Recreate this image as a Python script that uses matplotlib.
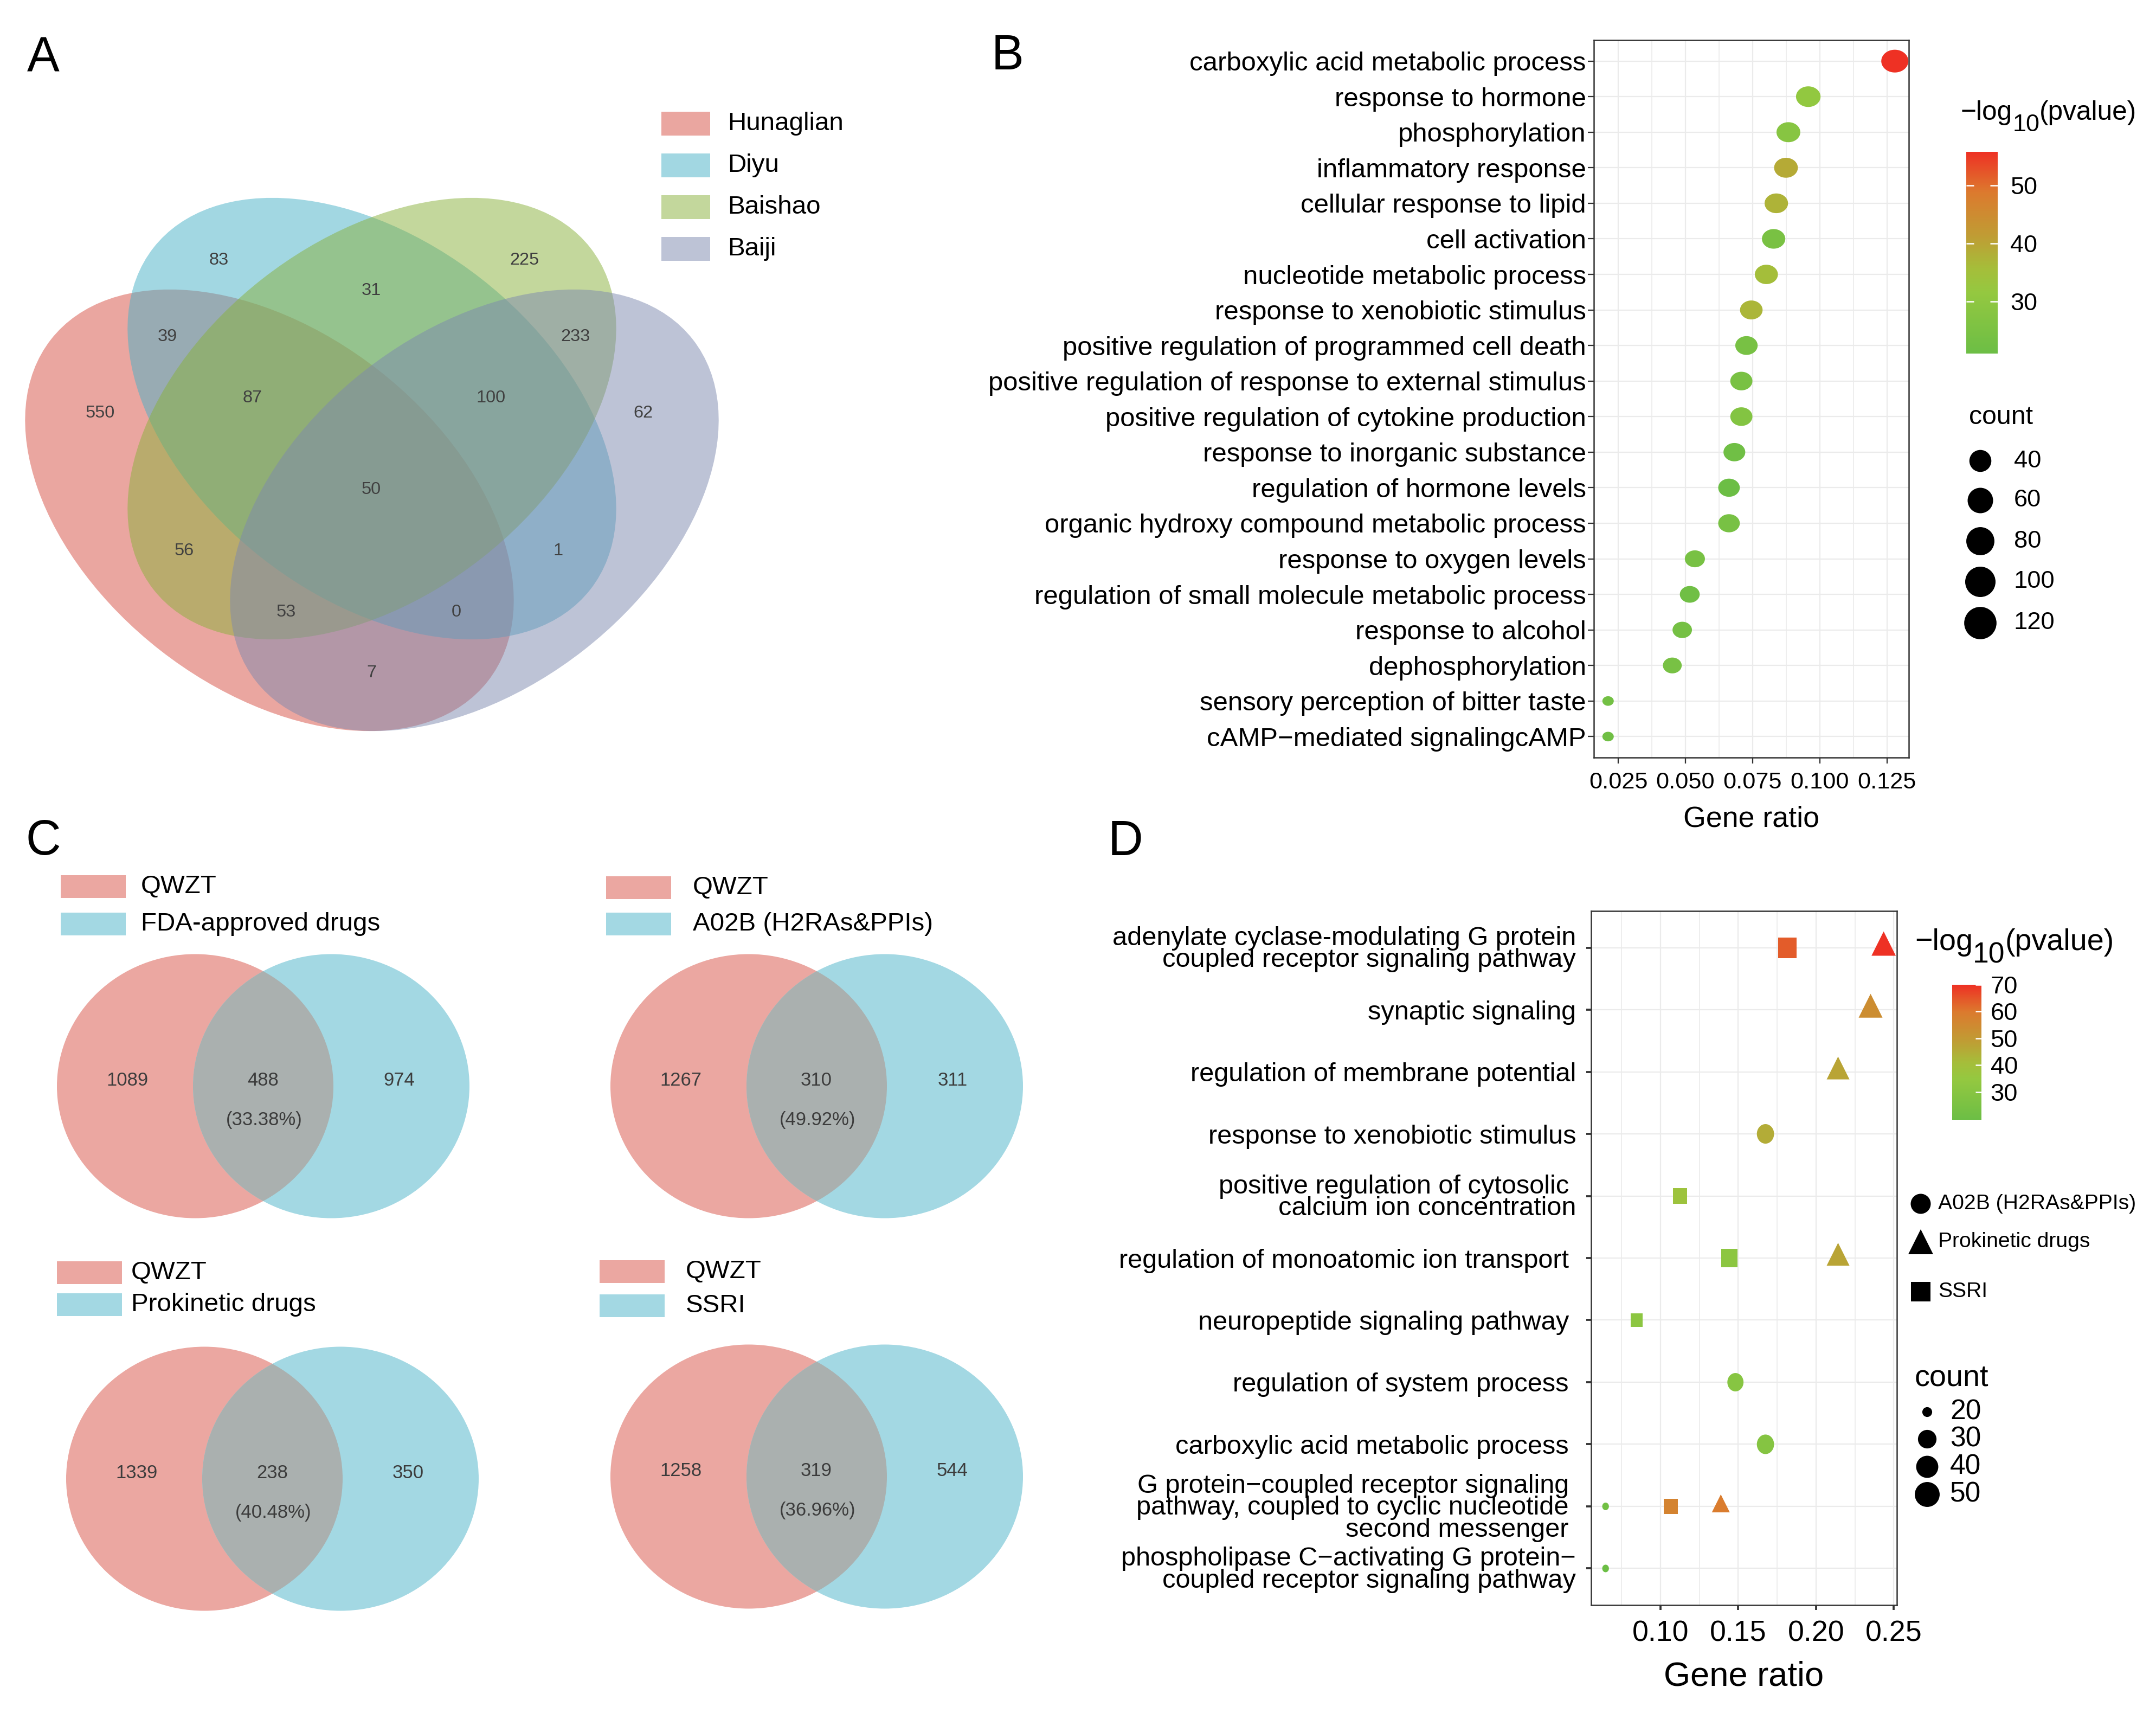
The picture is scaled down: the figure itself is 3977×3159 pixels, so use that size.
import numpy as np
import matplotlib
matplotlib.use('Agg')
import matplotlib.pyplot as plt
from matplotlib.patches import Ellipse, Rectangle
from matplotlib.path import Path
from matplotlib.colors import LinearSegmentedColormap, Normalize
from matplotlib.cm import ScalarMappable

plt.rcParams['font.family'] = ['Liberation Sans', 'DejaVu Sans']

W, H = 3977, 3159
DPI = 300

# ---------------- data ----------------
# A: four-set venn (region counts)
a_sets = ['Hunaglian', 'Diyu', 'Baishao', 'Baiji']
a_colors = ['#D74F43', '#47B1C7', '#89B13B', '#7D89AF']
a_region_counts = [550, 83, 225, 62, 39, 31, 233, 87, 100, 50, 56, 1, 53, 0, 7]

# C: QWZT vs drug target sets
c_drugs = ['FDA-approved drugs', 'A02B (H2RAs&PPIs)', 'Prokinetic drugs', 'SSRI']
c_qwzt_only = [1089, 1267, 1339, 1258]
c_shared = [488, 310, 238, 319]
c_drug_only = [974, 311, 350, 544]

# B: GO enrichment
b_terms = ['carboxylic acid metabolic process', 'response to hormone', 'phosphorylation',
           'inflammatory response', 'cellular response to lipid', 'cell activation',
           'nucleotide metabolic process', 'response to xenobiotic stimulus',
           'positive regulation of programmed cell death',
           'positive regulation of response to external stimulus',
           'positive regulation of cytokine production', 'response to inorganic substance',
           'regulation of hormone levels', 'organic hydroxy compound metabolic process',
           'response to oxygen levels', 'regulation of small molecule metabolic process',
           'response to alcohol', 'dephosphorylation', 'sensory perception of bitter taste',
           'cAMP\u2212mediated signalingcAMP']
b_ratio = [0.1279, 0.0957, 0.0883, 0.0874, 0.0838, 0.0828, 0.0801, 0.0745, 0.0727, 0.0708,
           0.0708, 0.0682, 0.0662, 0.0662, 0.0535, 0.0516, 0.0488, 0.0451, 0.0212, 0.0212]
b_count = [128, 96, 88, 87, 84, 83, 80, 75, 73, 71, 71, 68, 66, 66, 54, 52, 49, 45, 21, 21]
b_logp = [55.8, 31, 28, 39, 37.5, 24.5, 35.5, 37, 24, 24.5, 27, 22, 21, 24, 24, 22, 23.5,
          24, 23, 22]

# D: GO enrichment of three drug overlaps
d_terms = ['adenylate cyclase-modulating G protein\ncoupled receptor signaling pathway',
           'synaptic signaling', 'regulation of membrane potential',
           'response to xenobiotic stimulus',
           'positive regulation of cytosolic \ncalcium ion concentration',
           'regulation of monoatomic ion transport ', 'neuropeptide signaling pathway ',
           'regulation of system process ', 'carboxylic acid metabolic process ',
           'G protein\u2212coupled receptor signaling \npathway, coupled to cyclic nucleotide \nsecond messenger ',
           'phospholipase C\u2212activating G protein\u2212\ncoupled receptor signaling pathway']
d_groups = ['A02B (H2RAs&PPIs)', 'Prokinetic drugs', 'SSRI']
d_point_term = [0, 0, 1, 2, 3, 4, 5, 5, 6, 7, 8, 9, 9, 9, 10]
d_point_group = ['SSRI', 'Prokinetic drugs', 'Prokinetic drugs', 'Prokinetic drugs',
                 'A02B (H2RAs&PPIs)', 'SSRI', 'SSRI', 'Prokinetic drugs', 'SSRI',
                 'A02B (H2RAs&PPIs)', 'A02B (H2RAs&PPIs)', 'A02B (H2RAs&PPIs)', 'SSRI',
                 'Prokinetic drugs', 'A02B (H2RAs&PPIs)']
d_point_ratio = [0.1817, 0.2435, 0.2351, 0.2142, 0.1675, 0.1126, 0.1443, 0.2142, 0.0846,
                 0.1482, 0.1675, 0.0647, 0.1066, 0.1388, 0.0647]
d_point_count = [58, 58, 56, 51, 52, 36, 46, 51, 27, 46, 52, 20, 34, 33, 20]
d_point_logp = [64, 70, 54, 47, 45, 38, 32, 47, 32, 30, 29, 22, 57, 59, 19.6]

b_size_breaks = [40, 60, 80, 100, 120]
d_size_breaks = [20, 30, 40, 50]

# ---------------- helpers ----------------
fig = plt.figure(figsize=(W / DPI, H / DPI), dpi=DPI)
bg = fig.add_axes([0, 0, 1, 1], zorder=0)
bg.set_xlim(0, W)
bg.set_ylim(H, 0)
bg.axis('off')


def pt(v):
    # pixels -> points
    return v * 72.0 / DPI


def px_axes(l, t, r, b):
    return fig.add_axes([l / W, 1 - b / H, (r - l) / W, (b - t) / H], zorder=2)


def ellipse_path(w, h):
    t = np.linspace(0, 2 * np.pi, 80)
    return Path(np.column_stack([w / 2 * np.cos(t), h / 2 * np.sin(t)]), closed=True)


def log10_title(x, base, fs, sub_fs, drop):
    # "-log10(pvalue)" with a big, low subscript like the ggplot legend title
    r = fig.canvas.get_renderer()
    t1 = bg.text(x, base, '\u2212log', fontsize=fs, ha='left', va='baseline')
    x2 = x + t1.get_window_extent(r).width
    t2 = bg.text(x2, base + drop, '10', fontsize=sub_fs, ha='left', va='baseline')
    x3 = x2 + t2.get_window_extent(r).width
    bg.text(x3, base, '(pvalue)', fontsize=fs, ha='left', va='baseline')


enrich_cmap = LinearSegmentedColormap.from_list(
    'enrich', [(0.0, '#6CBE45'), (0.3, '#94C840'), (0.42, '#A5BE3A'),
               (0.58, '#BF9D34'), (0.8, '#DC7A2E'), (1.0, '#EE3124')])

dark = '#333333'
grid_col = '#EBEBEB'

# ---------------- panel A ----------------
a_centers = [(497, 941), (686, 772), (686, 772), (875, 941)]
a_angles = [38, 38, -38, -38]
for (cx, cy), ang, col in zip(a_centers, a_angles, a_colors):
    bg.add_patch(Ellipse((cx, cy), 1023, 655, angle=ang, facecolor=col, alpha=0.5,
                         edgecolor='none'))

a_label_pos = [(185, 762), (404, 480), (967, 480), (1186, 762), (309, 621), (685, 536),
               (1061, 621), (466, 734), (906, 734), (685, 903), (340, 1016), (1030, 1016),
               (528, 1129), (842, 1129), (685, 1241)]
for n, (x, y) in zip(a_region_counts, a_label_pos):
    bg.text(x, y, str(n), ha='center', va='center', fontsize=7.8, color='#404040')

for i, (name, col) in enumerate(zip(a_sets, a_colors)):
    yc = 228 + i * 77
    bg.add_patch(Rectangle((1220, yc - 22), 90, 44, facecolor=col, alpha=0.5,
                           edgecolor='none'))
    bg.text(1342, yc, name, ha='left', va='center', fontsize=11.4)

bg.text(50, 132, 'A', fontsize=21.5, va='baseline', ha='left')

# ---------------- panel C ----------------
c_red_cx = [360, 1381, 377, 1381]
c_cy = [2003, 2003, 2727, 2723]
c_leg_x = [112, 1118, 105, 1106]
c_leg_tx = [260, 1278, 242, 1265]
c_leg_y = [(1635, 1704), (1637, 1704), (2347, 2406), (2345, 2408)]
for k in range(4):
    rx, cy = c_red_cx[k], c_cy[k]
    bx = rx + 251
    red = Ellipse((rx, cy), 510, 487, facecolor='#EBA7A1', edgecolor='none')
    blue = Ellipse((bx, cy), 510, 487, facecolor='#A3D8E3', edgecolor='none')
    bg.add_patch(red)
    bg.add_patch(blue)
    lens = Ellipse((rx, cy), 510, 487, facecolor='#AAB0AF', edgecolor='none')
    bg.add_patch(lens)
    lens.set_clip_path(blue)
    pct = 100.0 * c_shared[k] / (c_shared[k] + c_drug_only[k])
    bg.text(rx - 125, cy - 11, str(c_qwzt_only[k]), ha='center', va='center',
            fontsize=8.3, color='#3C3C3C')
    bg.text(rx + 125, cy - 11, str(c_shared[k]), ha='center', va='center',
            fontsize=8.3, color='#3C3C3C')
    bg.text(rx + 376, cy - 11, str(c_drug_only[k]), ha='center', va='center',
            fontsize=8.3, color='#3C3C3C')
    bg.text(rx + 127, cy + 62, '(%.2f%%)' % pct, ha='center', va='center',
            fontsize=8.3, color='#3C3C3C')
    for (lab, col), yc in zip([('QWZT', '#EBA7A1'), (c_drugs[k], '#A3D8E3')], c_leg_y[k]):
        bg.add_patch(Rectangle((c_leg_x[k], yc - 21), 120, 42, facecolor=col,
                               edgecolor='none'))
        bg.text(c_leg_tx[k], yc, lab, ha='left', va='center', fontsize=11.4)

bg.text(47, 1576, 'C', fontsize=21.5, va='baseline', ha='left')

# ---------------- panel B ----------------
axB = px_axes(2940, 74, 3521, 1397)
nb = len(b_terms)
yb = np.arange(nb)[::-1]
normB = Normalize(vmin=min(b_logp), vmax=max(b_logp))
cb_min, cb_max = min(b_count), max(b_count)


def b_diam(c):
    return 21 + 29 * np.sqrt((np.asarray(c, float) - cb_min) / (cb_max - cb_min))


axB.scatter(b_ratio, yb, s=pt(b_diam(b_count)) ** 2, c=enrich_cmap(normB(b_logp)),
            marker=ellipse_path(1.19, 1.0), edgecolors='none', zorder=3)
axB.set_xlim(0.0159, 0.1331)
axB.set_ylim(-0.59, nb - 1 + 0.59)
b_xticks = [0.025, 0.05, 0.075, 0.1, 0.125]
axB.set_xticks(b_xticks)
axB.set_xticklabels(['%.3f' % v for v in b_xticks])
axB.set_xticks([0.0375, 0.0625, 0.0875, 0.1125], minor=True)
axB.set_yticks(yb)
axB.set_yticklabels(b_terms)
axB.grid(which='major', color=grid_col, lw=0.55)
axB.grid(which='minor', color=grid_col, lw=0.4)
axB.set_axisbelow(True)
axB.tick_params(which='major', length=pt(11), width=0.55, color=dark, labelcolor='black')
axB.tick_params(which='minor', length=0)
axB.tick_params(axis='y', labelsize=11.8, pad=0.8)
axB.tick_params(axis='x', labelsize=10.4, pad=3.5)
for s in axB.spines.values():
    s.set_color(dark)
    s.set_linewidth(0.6)
axB.set_xlabel('Gene ratio', fontsize=12.9, va='center')
axB.xaxis.set_label_coords(0.5, -(1511 - 1397) / (1397 - 74))

# B legends
log10_title(3617, 221, 11.9, 10.8, 21)
caxB = px_axes(3627, 280, 3685, 652)
cbB = fig.colorbar(ScalarMappable(norm=normB, cmap=enrich_cmap), cax=caxB)
cbB.outline.set_visible(False)
cbB.set_ticks([30, 40, 50])
caxB.yaxis.set_ticks_position('both')
caxB.tick_params(axis='y', direction='in', length=pt(14), width=0.6, color='white',
                 left=True, right=True, labelleft=False, labelright=True,
                 labelsize=10.8, pad=5.5, labelcolor='black')
bg.text(3632, 769, 'count', ha='left', va='center', fontsize=11.6)
for v, yc in zip(b_size_breaks, [850, 923, 998, 1073, 1149]):
    bg.scatter([3653], [yc], s=pt(b_diam(v) * 1.22) ** 2, c='black', marker='o',
               edgecolors='none')
    bg.text(3715, yc, str(v), ha='left', va='center', fontsize=10.9)

bg.text(1829, 128, 'B', fontsize=21.5, va='baseline', ha='left')

# ---------------- panel D ----------------
axD = px_axes(2935, 1680, 3499, 2960)
nd = len(d_terms)
normD = Normalize(vmin=min(d_point_logp), vmax=max(d_point_logp))
cd_min, cd_max = min(d_point_count), max(d_point_count)


def d_height(c):
    return 14 + 24 * np.sqrt((np.asarray(c, float) - cd_min) / (cd_max - cd_min))


tri = Path([(0, 2 / 3.), (-0.5, -1 / 3.), (0.5, -1 / 3.), (0, 2 / 3.)], closed=True)
sq = Path([(-0.45, -0.5), (0.45, -0.5), (0.45, 0.5), (-0.45, 0.5), (-0.45, -0.5)],
          closed=True)
d_marker = {'A02B (H2RAs&PPIs)': (ellipse_path(0.88, 1.0), 1.0),
            'Prokinetic drugs': (tri, 1.18 * 4 / 3.),
            'SSRI': (sq, 1.0)}
term_y = np.array([nd - 1 - t for t in d_point_term])
ratio = np.array(d_point_ratio)
cnt = np.array(d_point_count)
lp = np.array(d_point_logp)
grp = np.array(d_point_group)
for g in d_groups:
    m = grp == g
    mk, fac = d_marker[g]
    axD.scatter(ratio[m], term_y[m], s=pt(d_height(cnt[m]) * fac) ** 2,
                c=enrich_cmap(normD(lp[m])), marker=mk, edgecolors='none', zorder=3)
axD.set_xlim(0.0554, 0.252)
axD.set_ylim(-0.59, nd - 1 + 0.59)
d_xticks = [0.10, 0.15, 0.20, 0.25]
axD.set_xticks(d_xticks)
axD.set_xticklabels(['%.2f' % v for v in d_xticks])
axD.set_xticks([0.075, 0.125, 0.175, 0.225], minor=True)
axD.set_yticks(np.arange(nd)[::-1])
axD.set_yticklabels(d_terms, linespacing=0.88)
axD.grid(which='major', color=grid_col, lw=0.55)
axD.grid(which='minor', color=grid_col, lw=0.4)
axD.set_axisbelow(True)
axD.tick_params(which='major', length=pt(9), width=0.9, color=dark, labelcolor='black')
axD.tick_params(which='minor', length=0)
axD.tick_params(axis='y', labelsize=11.7, pad=4.5)
axD.tick_params(axis='x', labelsize=12.9, pad=4.5)
for s in axD.spines.values():
    s.set_color(dark)
    s.set_linewidth(0.6)
axD.set_xlabel('Gene ratio', fontsize=15.2, va='center')
axD.xaxis.set_label_coords(0.5, -(3092 - 2960) / (2960 - 1680))

# D legends
log10_title(3532, 1752, 13.4, 12.8, 24)
caxD = px_axes(3601, 1816, 3655, 2065)
cbD = fig.colorbar(ScalarMappable(norm=normD, cmap=enrich_cmap), cax=caxD)
cbD.outline.set_visible(False)
cbD.set_ticks([30, 40, 50, 60, 70])
caxD.tick_params(axis='y', direction='in', length=pt(11.5), width=0.6, color='white',
                 labelsize=10.9, pad=4, labelcolor='black')

leg_shapes = [('o', 37), ('^', 46), ('s', 36)]
for g, (mk, d), yc in zip(d_groups, leg_shapes, [2220, 2290, 2382]):
    bg.scatter([3543], [yc], s=pt(d) ** 2, c='black', marker=mk, edgecolors='none')
    bg.text(3575, yc, g, ha='left', va='center', fontsize=9.4)

bg.text(3532, 2542, 'count', ha='left', va='center', fontsize=13.4)
for v, yc in zip(d_size_breaks, [2604, 2654, 2705, 2756]):
    bg.scatter([3555], [yc], s=pt(d_height(v) * 1.3) ** 2, c='black', marker='o',
               edgecolors='none')
    bg.text(3597, yc, str(v), ha='left', va='center', fontsize=12.4)

bg.text(2044, 1577, 'D', fontsize=21.5, va='baseline', ha='left')

fig.savefig('out.png', dpi=DPI)
